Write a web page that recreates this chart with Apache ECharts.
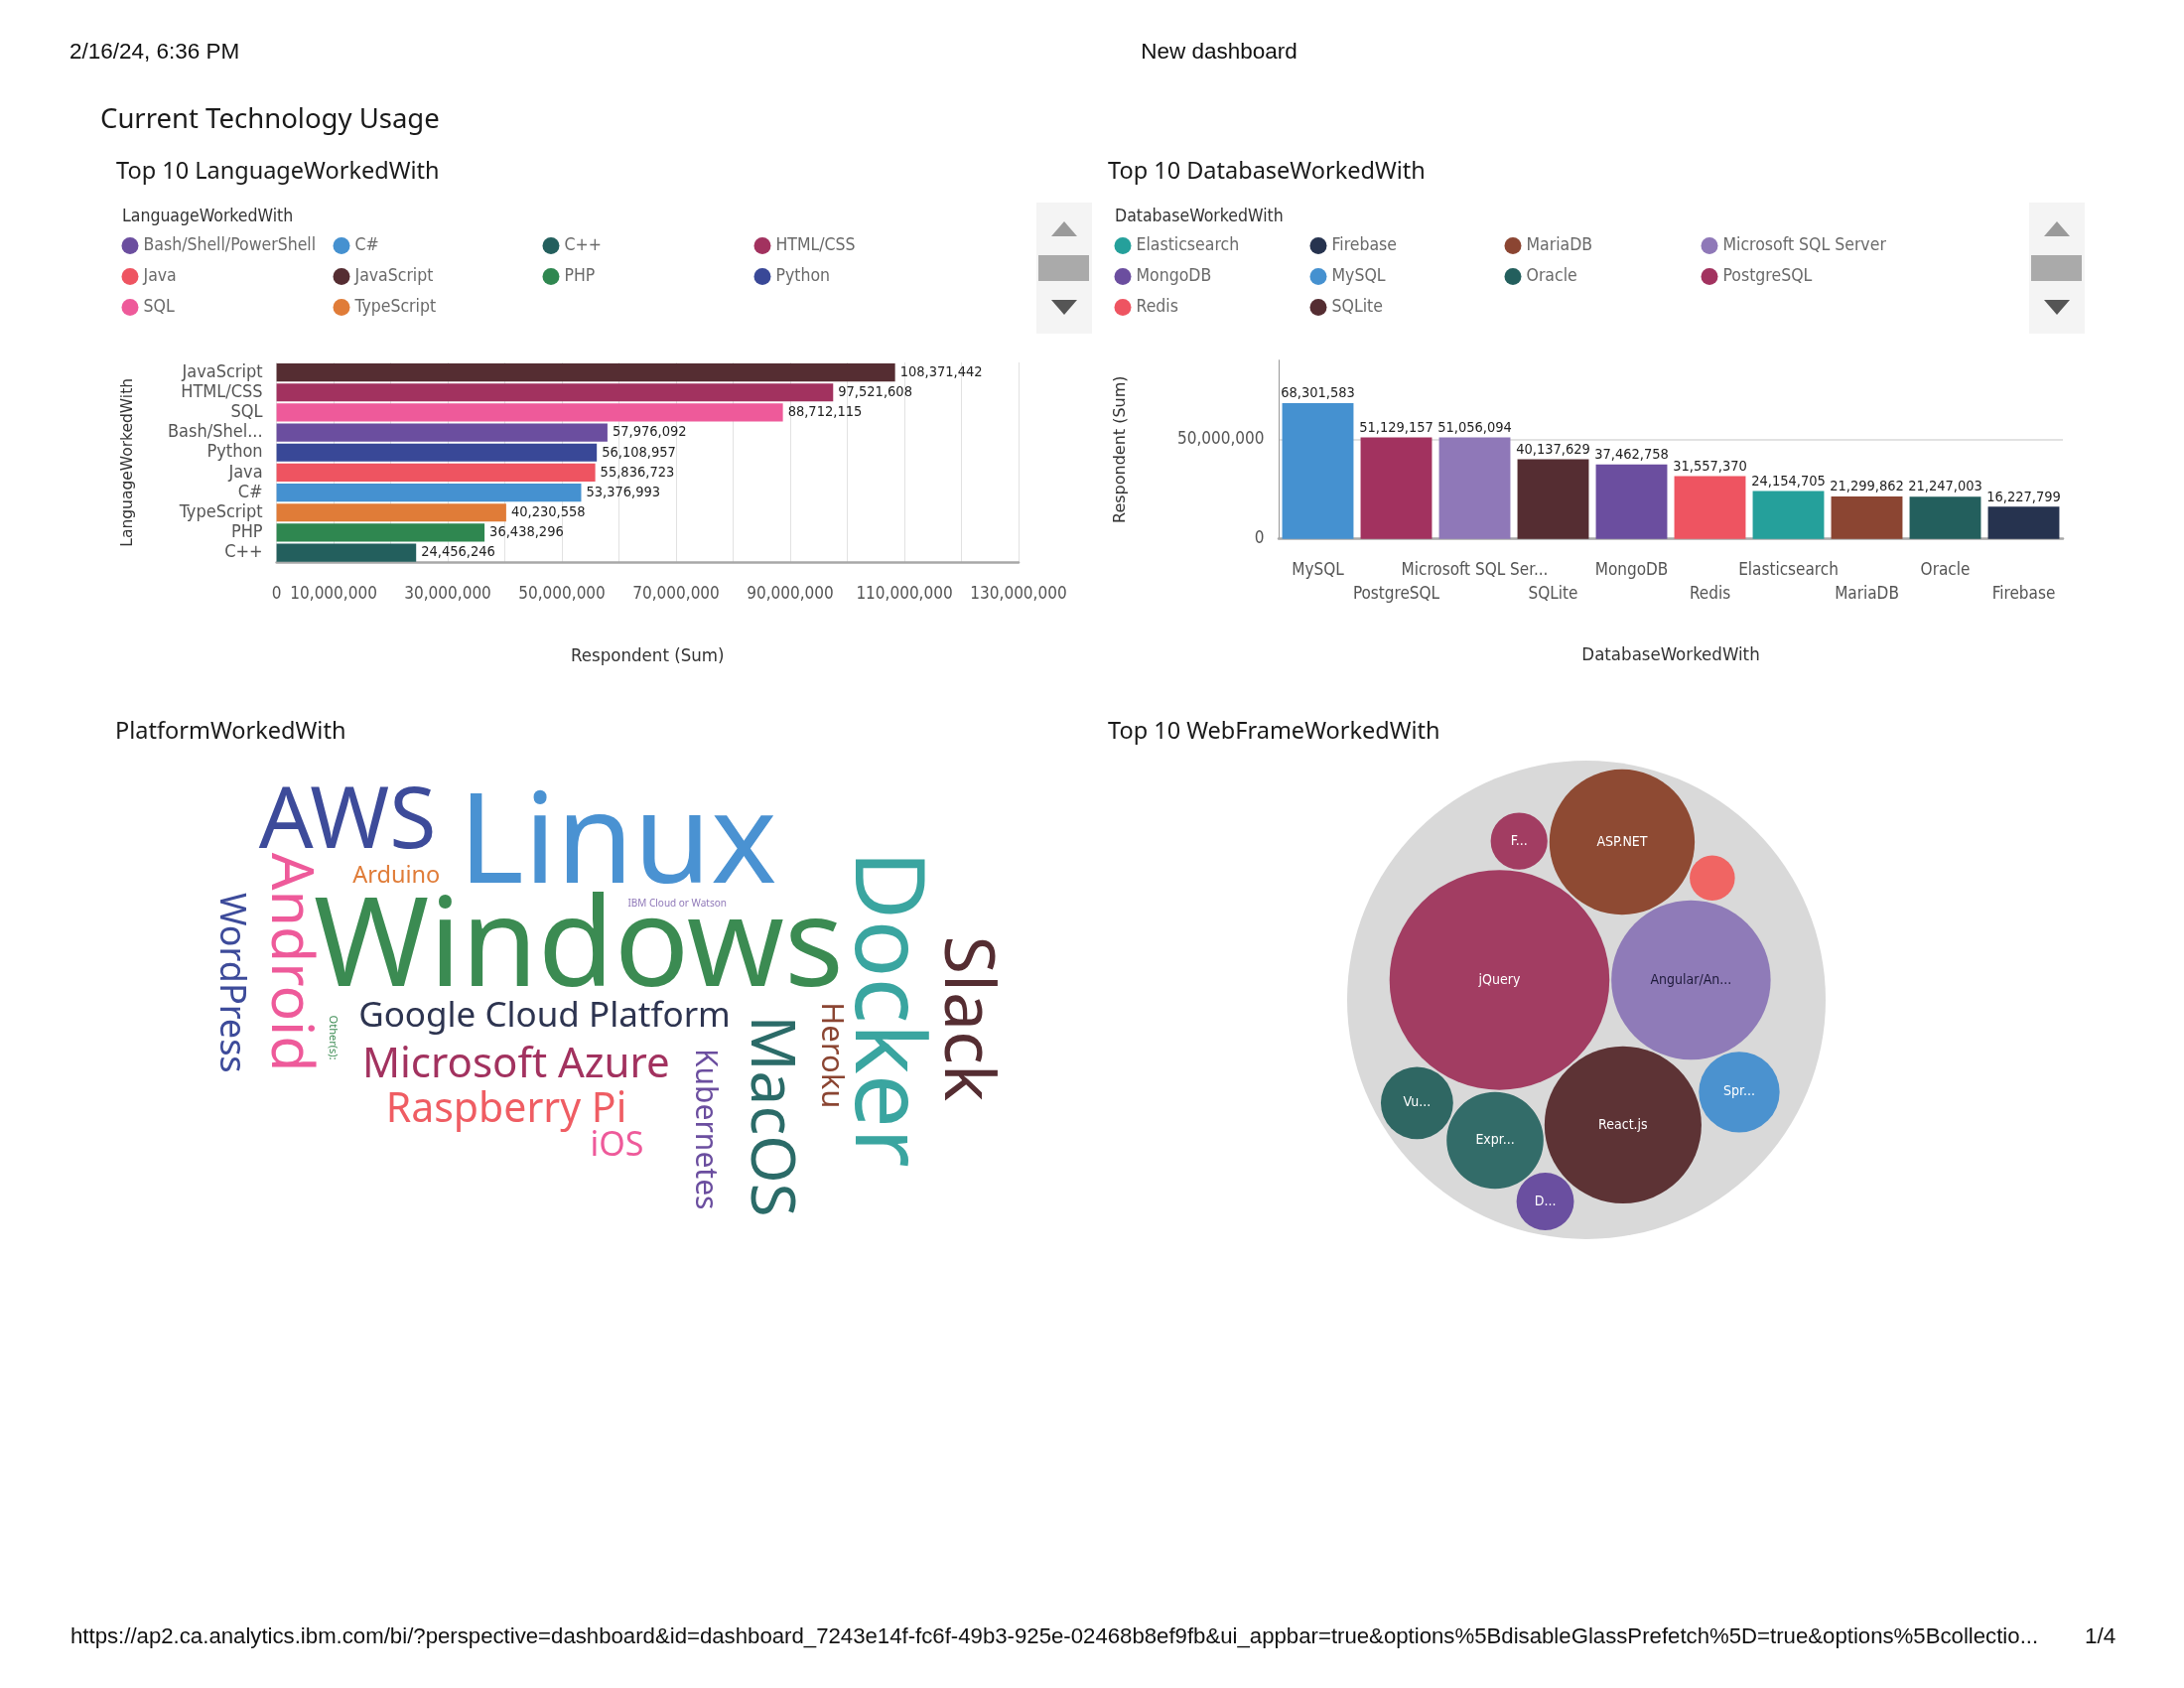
<!DOCTYPE html>
<html><head><meta charset="utf-8">
<script src="https://cdn.jsdelivr.net/npm/echarts@6/dist/echarts.min.js"></script>
<style>html,body{margin:0;padding:0;background:#fff}#c{width:2200px;height:1700px}</style>
</head><body><div id="c"></div>
<script>
// ---------------- DATA ----------------
const langNames = ['JavaScript','HTML/CSS','SQL','Bash/Shell/PowerShell','Python','Java','C#','TypeScript','PHP','C++'];
const langValues = [108371442, 97521608, 88712115, 57976092, 56108957, 55836723, 53376993, 40230558, 36438296, 24456246];
const langTickLabels = [0, 10000000, 30000000, 50000000, 70000000, 90000000, 110000000, 130000000];

const dbNames = ['MySQL','PostgreSQL','Microsoft SQL Server','SQLite','MongoDB','Redis','Elasticsearch','MariaDB','Oracle','Firebase'];
const dbValues = [68301583, 51129157, 51056094, 40137629, 37462758, 31557370, 24154705, 21299862, 21247003, 16227799];
const dbTickLabels = [0, 50000000];

const platformNames = ['Windows','Linux','Docker','AWS','Slack','MacOS','Android','Microsoft Azure','Raspberry Pi','WordPress','Google Cloud Platform','iOS','Heroku','Kubernetes','Arduino','Other(s):','IBM Cloud or Watson'];
const platformWeights = [125, 126, 96, 86, 70, 62, 59, 42, 41, 36, 35, 34, 31, 30, 23.5, 11, 10];

const webNames = ['jQuery','Angular/Angular.js','React.js','ASP.NET','Flask','Express','Laravel','Spring','Vue.js','Django'];
const webValues = [13040, 6840, 6640, 5690, 870, 2530, 550, 1760, 1410, 890];

// ---------------- STYLE / LAYOUT ----------------
const COND = "'DejaVu Sans Condensed','Liberation Sans Narrow',sans-serif";
const PLEX = "'Noto Sans','Open Sans',sans-serif";
const ARIAL = "'Liberation Sans',Arial,sans-serif";
const WIDE = "'DejaVu Sans',Verdana,sans-serif";

const langColors = {'JavaScript':'#552d32','HTML/CSS':'#a2325f','SQL':'#ee5a9a','Bash/Shell/PowerShell':'#6b4e9f','Python':'#394897','Java':'#ee5461','C#':'#4591d0','TypeScript':'#e07c38','PHP':'#2f8750','C++':'#235f5d'};
const dbColors = {'MySQL':'#4591d0','PostgreSQL':'#a2325f','Microsoft SQL Server':'#8f78b8','SQLite':'#552d32','MongoDB':'#6b4e9f','Redis':'#ee5461','Elasticsearch':'#25a09b','MariaDB':'#8b4532','Oracle':'#235f5d','Firebase':'#26334f'};
const wordColors = {'Windows':'#3b8b52','Linux':'#4a92d2','Docker':'#3aa5a0','AWS':'#3d4b9a','Slack':'#552d32','MacOS':'#2b6b68','Android':'#ee5a9a','Microsoft Azure':'#a2325f','Raspberry Pi':'#ef5d63','WordPress':'#3d4b9a','Google Cloud Platform':'#2d3450','iOS':'#ee5a9a','Heroku':'#8b4532','Kubernetes':'#6b4e9f','Arduino':'#e07c38','Other(s):':'#3b8b52','IBM Cloud or Watson':'#8f78b8'};
// word cloud placement (percent of the cloud box, centre of the glyphs) and rotation
const wordLayout = {
  'Windows':[46.7,37.3,0],'Linux':[51.5,15.6,0],'Docker':[85.0,51.25,-90],'AWS':[18.3,11.25,0],
  'Slack':[94.8,53.3,-90],'MacOS':[70.7,73.75,-90],'Android':[11.7,41.5,-90],'Microsoft Azure':[39.0,62.5,0],
  'Raspberry Pi':[37.8,72.1,0],'WordPress':[4.3,45.8,-90],'Google Cloud Platform':[42.5,52.5,0],'iOS':[51.4,79.6,0],
  'Heroku':[78.0,61.0,-90],'Kubernetes':[62.4,76.5,-90],'Arduino':[24.3,23.1,0],'Other(s):':[16.6,57.3,-90],
  'IBM Cloud or Watson':[58.8,29.0,0]
};
const CLOUD = {left: 200, top: 770, width: 820, height: 480};
const webColors = ['#a23d62','#8f7bb8','#5d3335','#8e4a33','#a23d62','#336c69','#f06563','#4b92cf','#2f6763','#6a4fa0'];
const webLabelColors = ['#fff','#1e1a3a','#fff','#fff','#fff','#fff','#fff','#fff','#fff','#fff'];
// packing plan: each circle is placed tangent to two earlier circles
const packPlan = [null, null, [0,1], [0,1], [0,3], [2,0], [3,1], [1,2], [5,0], [2,5]];

const fmt = v => echarts.format.addCommas(v);

// ---------------- PACK LAYOUT ----------------
function tangentPositions(A, B, r) {
  const dx = B.x - A.x, dy = B.y - A.y, d = Math.hypot(dx, dy);
  const ra = A.r + r, rb = B.r + r;
  const a = (ra*ra - rb*rb + d*d) / (2*d);
  const h = Math.sqrt(Math.max(0, ra*ra - a*a));
  const ux = dx/d, uy = dy/d, mx = A.x + a*ux, my = A.y + a*uy;
  return [{x: mx - h*uy, y: my + h*ux}, {x: mx + h*uy, y: my - h*ux}];
}
function enclosesNot(a, b){const dr=a.r-b.r,dx=b.x-a.x,dy=b.y-a.y;return dr<0||dr*dr<dx*dx+dy*dy;}
function enclosesWeak(a, b){const dr=a.r-b.r+Math.max(a.r,b.r,1)*1e-9,dx=b.x-a.x,dy=b.y-a.y;return dr>0&&dr*dr>dx*dx+dy*dy;}
function enclosesWeakAll(a,B){for(let i=0;i<B.length;++i)if(!enclosesWeak(a,B[i]))return false;return true;}
function basis2(a,b){const x21=b.x-a.x,y21=b.y-a.y,r21=b.r-a.r,l=Math.sqrt(x21*x21+y21*y21);return{x:(a.x+b.x+x21/l*r21)/2,y:(a.y+b.y+y21/l*r21)/2,r:(l+a.r+b.r)/2};}
function basis3(a,b,c){const x1=a.x,y1=a.y,r1=a.r,x2=b.x,y2=b.y,r2=b.r,x3=c.x,y3=c.y,r3=c.r,
  a2=x1-x2,a3=x1-x3,b2=y1-y2,b3=y1-y3,c2=r2-r1,c3=r3-r1,d1=x1*x1+y1*y1-r1*r1,d2=d1-x2*x2-y2*y2+r2*r2,d3=d1-x3*x3-y3*y3+r3*r3,
  ab=a3*b2-a2*b3,xa=(b2*d3-b3*d2)/(ab*2)-x1,xb=(b3*c2-b2*c3)/ab,ya=(a3*d2-a2*d3)/(ab*2)-y1,yb=(a2*c3-a3*c2)/ab,
  A=xb*xb+yb*yb-1,B=2*(r1+xa*xb+ya*yb),C=xa*xa+ya*ya-r1*r1,r=-(Math.abs(A)>1e-6?(B+Math.sqrt(B*B-4*A*C))/(2*A):C/B);
  return{x:x1+xa+xb*r,y:y1+ya+yb*r,r:r};}
function basis(B){return B.length===1?{x:B[0].x,y:B[0].y,r:B[0].r}:B.length===2?basis2(B[0],B[1]):basis3(B[0],B[1],B[2]);}
function extendBasis(B,p){
  if(enclosesWeakAll(p,B))return[p];
  for(let i=0;i<B.length;++i)if(enclosesNot(p,B[i])&&enclosesWeakAll(basis2(B[i],p),B))return[B[i],p];
  for(let i=0;i<B.length-1;++i)for(let j=i+1;j<B.length;++j)
    if(enclosesNot(basis2(B[i],B[j]),p)&&enclosesNot(basis2(B[i],p),B[j])&&enclosesNot(basis2(B[j],p),B[i])&&enclosesWeakAll(basis3(B[i],B[j],p),B))return[B[i],B[j],p];
  return [p];
}
function enclose(circles){let i=0,B=[],e=null;const n=circles.length;while(i<n){const p=circles[i];if(e&&enclosesWeak(e,p))++i;else{B=extendBasis(B,p);e=basis(B);i=0;}}return e;}

function packLayout(values, plan, pad) {
  const cs = values.map(v => ({r: Math.sqrt(v) + pad, x: 0, y: 0}));
  cs[0].x = -cs[1].r; cs[1].x = cs[0].r;
  for (let i = 2; i < cs.length; i++) {
    const A = cs[plan[i][0]], B = cs[plan[i][1]];
    const cand = tangentPositions(A, B, cs[i].r).filter(p => {
      for (let k = 0; k < i; k++) { const c = cs[k]; if (c === A || c === B) continue;
        if (Math.hypot(c.x - p.x, c.y - p.y) < c.r + cs[i].r - 1e-6) return false; }
      return true; });
    let pick = cand[0];
    if (i > 2 && cand.length > 1) {
      let sx = 0, sy = 0, sw = 0;
      for (let k = 0; k < i; k++) { const w = cs[k].r * cs[k].r; sx += cs[k].x * w; sy += cs[k].y * w; sw += w; }
      sx /= sw; sy /= sw;
      pick = cand.reduce((b, p) => Math.hypot(p.x - sx, p.y - sy) > Math.hypot(b.x - sx, b.y - sy) ? p : b);
    }
    cs[i].x = pick.x; cs[i].y = pick.y;
  }
  const e = enclose(cs);
  return {circles: cs.map(c => ({x: c.x - e.x, y: c.y - e.y, r: c.r - pad})), r: e.r};
}

const PACK_CX = 1598, PACK_CY = 1007, PACK_R = 241, PACK_PAD = 1, PACK_OUTER = 4;
const packed = packLayout(webValues, packPlan, PACK_PAD);
const packScale = PACK_R / (packed.r + PACK_OUTER);
const measureCtx = document.createElement('canvas').getContext('2d');
measureCtx.font = '14px ' + COND;
function fitLabel(text, maxW, r) {
  if (measureCtx.measureText(text).width <= maxW) return text;
  for (let n = text.length - 1; n >= 1; n--) {
    const t = text.slice(0, n) + '...';
    if (measureCtx.measureText(t).width <= maxW) return t;
  }
  return r > 26 ? text.slice(0, 1) + '...' : '';
}
const packNodes = [{x: PACK_CX, y: PACK_CY, r: PACK_R, color: '#d9d9d9', label: '', value: webValues.reduce((a, b) => a + b, 0)}]
  .concat(packed.circles.map((c, i) => {
    const r = c.r * packScale;
    return {x: PACK_CX + c.x * packScale, y: PACK_CY + c.y * packScale, r: r, color: webColors[i],
      label: fitLabel(webNames[i], 1.2 * r - 14, r), labelColor: webLabelColors[i], value: webValues[i]};
  }));

// ---------------- SERIES ----------------
const langSeries = langNames.map((n, i) => ({
  type: 'bar', name: n, xAxisIndex: 0, yAxisIndex: 0,
  data: langValues.map((v, j) => j === i ? v : '-'),
  barGap: '-100%', barCategoryGap: '10%',
  itemStyle: {color: langColors[n]},
  label: {show: true, position: 'right', distance: 5, formatter: p => fmt(p.value), fontFamily: COND, fontSize: 14.5, color: '#222'}
}));
const dbSeries = dbNames.map((n, i) => ({
  type: 'bar', name: n, xAxisIndex: 1, yAxisIndex: 1,
  data: dbValues.map((v, j) => j === i ? v : '-'),
  barGap: '-100%', barCategoryGap: '9%',
  itemStyle: {color: dbColors[n]},
  label: {show: true, position: 'top', distance: 2, formatter: p => fmt(p.value), fontFamily: COND, fontSize: 14.5, color: '#222'}
}));
// em-box vs glyph-centre compensation (in font-size units)
const EM_SHIFT_H = 0.065, EM_SHIFT_V = 0.08;
const wordSeries = {
  type: 'scatter', xAxisIndex: 2, yAxisIndex: 2, symbolSize: 0.1, itemStyle: {color: 'rgba(0,0,0,0)'}, silent: true,
  labelLayout: {hideOverlap: false},
  data: platformNames.map((n, i) => {
    const L = wordLayout[n], fs = platformWeights[i];
    const x = L[0] - (L[2] ? EM_SHIFT_V * fs * 100 / CLOUD.width : 0);
    const y = L[1] + (L[2] ? 0 : EM_SHIFT_H * fs * 100 / CLOUD.height);
    return {
      name: n, value: [x, y, fs],
      label: {show: true, position: 'inside', formatter: '{b}', fontFamily: PLEX, fontSize: fs,
        rotate: L[2], color: wordColors[n], opacity: 1}
    };
  })
};
const packSeries = {
  type: 'custom', coordinateSystem: 'none', silent: true,
  data: packNodes.map(n => n.value),
  renderItem: (params) => {
    const n = packNodes[params.dataIndex];
    const ch = [{type: 'circle', shape: {cx: n.x, cy: n.y, r: n.r}, style: {fill: n.color}}];
    if (n.label) ch.push({type: 'text', style: {x: n.x, y: n.y, text: n.label, fill: n.labelColor,
      fontSize: 14, fontFamily: COND, align: 'center', verticalAlign: 'middle', textAlign: 'center', textVerticalAlign: 'middle'}});
    return {type: 'group', children: ch};
  }
};

// ---------------- LEGENDS ----------------
function legendColumns(names, xs, top) {
  const sorted = names.slice().sort();
  return xs.map((x, c) => ({
    left: x, top: top, orient: 'vertical', padding: 0, itemGap: 13, itemWidth: 17, itemHeight: 17,
    icon: 'circle', selectedMode: false,
    data: sorted.filter((_, i) => i % 4 === c),
    textStyle: {fontFamily: COND, fontSize: 17.5, color: '#6a6a6a'}
  }));
}
const legends = legendColumns(langNames, [122.5, 335.5, 546.5, 759.5], 238.5)
  .concat(legendColumns(dbNames, [1122.5, 1319.5, 1515.5, 1713.5], 238.5));

// ---------------- GRAPHIC (page texts) ----------------
function txt(x, y, text, font, fill, align) {
  return {type: 'text', silent: true, style: {x: x, y: y, text: text, font: font, fill: fill,
    textAlign: align || 'left', textVerticalAlign: 'middle', align: align || 'left', verticalAlign: 'middle'}};
}
function scrollBox(x0) {
  return [
    {type: 'rect', silent: true, shape: {x: x0, y: 204, width: 56, height: 132}, style: {fill: '#f4f4f4'}},
    {type: 'polygon', silent: true, shape: {points: [[x0 + 15, 238], [x0 + 41, 238], [x0 + 28, 223]]}, style: {fill: '#9a9a9a'}},
    {type: 'rect', silent: true, shape: {x: x0 + 2, y: 257, width: 51, height: 26}, style: {fill: '#aaaaaa'}},
    {type: 'polygon', silent: true, shape: {points: [[x0 + 15, 302], [x0 + 41, 302], [x0 + 28, 317]]}, style: {fill: '#555555'}}
  ];
}
const graphics = [
  txt(70, 53, '2/16/24, 6:36 PM', '22.5px ' + ARIAL, '#111'),
  txt(1228, 53, 'New dashboard', '22.5px ' + ARIAL, '#111', 'center'),
  txt(71, 1649, 'https://ap2.ca.analytics.ibm.com/bi/?perspective=dashboard&id=dashboard_7243e14f-fc6f-49b3-925e-02468b8ef9fb&ui_appbar=true&options%5BdisableGlassPrefetch%5D=true&options%5Bcollectio...', '22.2px ' + ARIAL, '#111'),
  txt(2100, 1649, '1/4', '22.5px ' + ARIAL, '#111'),
  txt(101, 121, 'Current Technology Usage', '27.5px ' + PLEX, '#1a1a1a'),
  txt(117, 173, 'Top 10 LanguageWorkedWith', '23.5px ' + PLEX, '#1a1a1a'),
  txt(1116, 173, 'Top 10 DatabaseWorkedWith', '23.5px ' + PLEX, '#1a1a1a'),
  txt(116, 737, 'PlatformWorkedWith', '23.5px ' + PLEX, '#1a1a1a'),
  txt(1116, 737, 'Top 10 WebFrameWorkedWith', '23.5px ' + PLEX, '#1a1a1a'),
  txt(123, 218, 'LanguageWorkedWith', '17.5px ' + COND, '#333'),
  txt(1123, 218, 'DatabaseWorkedWith', '17.5px ' + COND, '#333')
].concat(scrollBox(1044), scrollBox(2044));

// ---------------- OPTION ----------------
const option = {
  animation: false,
  backgroundColor: '#fff',
  legend: legends,
  graphic: {elements: graphics},
  grid: [
    {left: 278.6, top: 365, width: 747.4, height: 201.7},
    {left: 1288, top: 362.7, width: 790, height: 180},
    CLOUD
  ],
  xAxis: [
    {gridIndex: 0, type: 'value', min: 0, max: 130000000, interval: 10000000,
     axisLabel: {formatter: v => langTickLabels.indexOf(v) >= 0 ? fmt(v) : '', margin: 23, fontFamily: COND, fontSize: 17, color: '#555'},
     splitLine: {show: true, lineStyle: {color: '#e2e2e2', width: 1}},
     axisLine: {show: true, lineStyle: {color: '#a8a8a8', width: 2.5}}, axisTick: {show: false},
     name: 'Respondent (Sum)', nameLocation: 'middle', nameGap: 85,
     nameTextStyle: {fontFamily: COND, fontSize: 18.5, color: '#333'}},
    {gridIndex: 1, type: 'category', data: dbNames,
     axisLabel: {interval: 0, formatter: (v, i) => (i % 2 ? '\n' : '') + (v.length > 18 ? v.slice(0, 17) + '...' : v),
       lineHeight: 24, margin: 20, fontFamily: COND, fontSize: 17, color: '#555'},
     axisLine: {show: true, lineStyle: {color: '#a8a8a8', width: 2.5}}, axisTick: {show: false},
     name: 'DatabaseWorkedWith', nameLocation: 'middle', nameGap: 108,
     nameTextStyle: {fontFamily: COND, fontSize: 18.5, color: '#333'}},
    {gridIndex: 2, type: 'value', min: 0, max: 100, show: false}
  ],
  yAxis: [
    {gridIndex: 0, type: 'category', data: langNames, inverse: true,
     axisLine: {show: false}, axisTick: {show: false},
     axisLabel: {interval: 0, margin: 14, formatter: v => v.length > 10 ? v.slice(0, 9) + '...' : v, fontFamily: COND, fontSize: 18, color: '#555'},
     name: 'LanguageWorkedWith', nameLocation: 'middle', nameGap: 142,
     nameTextStyle: {fontFamily: WIDE, fontSize: 15.5, color: '#333'}},
    {gridIndex: 1, type: 'value', min: 0, max: 90000000, interval: 50000000,
     axisLabel: {formatter: v => dbTickLabels.indexOf(v) >= 0 ? fmt(v) : '', showMaxLabel: false, margin: 14.5, fontFamily: COND, fontSize: 17, color: '#555'},
     splitLine: {show: true, showMinLine: false, showMaxLine: false, lineStyle: {color: '#e2e2e2', width: 2}},
     axisLine: {show: true, lineStyle: {color: '#999', width: 1}}, axisTick: {show: false},
     name: 'Respondent (Sum)', nameLocation: 'middle', nameGap: 151,
     nameTextStyle: {fontFamily: WIDE, fontSize: 16, color: '#333'}},
    {gridIndex: 2, type: 'value', min: 0, max: 100, inverse: true, show: false}
  ],
  series: langSeries.concat(dbSeries, [wordSeries, packSeries])
};
const chart = echarts.init(document.getElementById('c'), null, {renderer: 'canvas'});
chart.setOption(option);
</script>
</body></html>
